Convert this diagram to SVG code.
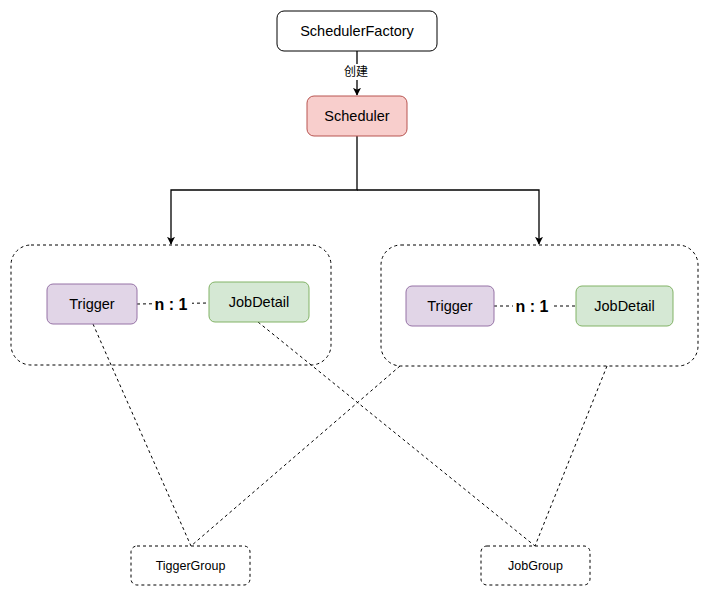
<svg xmlns="http://www.w3.org/2000/svg" width="708" height="596" viewBox="0 0 708 596">
<style>
text{font-family:"Liberation Sans",Arial,sans-serif;fill:#000;text-anchor:middle;dominant-baseline:central}
.lbl{font-size:14.5px}
.sm{font-size:12.5px}
.rel{font-size:16px;font-weight:bold}
.cjk{font-family:"Liberation Sans","Noto Sans CJK SC",sans-serif;font-size:12px}
.dash{fill:none;stroke:#000;stroke-width:1;stroke-dasharray:3 3}
.solid{fill:none;stroke:#000;stroke-width:1.3}
</style>
<defs>
<marker id="arr" viewBox="0 0 10 10" refX="9" refY="5" markerWidth="8" markerHeight="8" markerUnits="userSpaceOnUse" orient="auto">
<path d="M0,0 L10,5 L0,10 L2.5,5 Z" fill="#000"/>
</marker>
</defs>
<rect width="708" height="596" fill="#fff"/>
<g id="connectors">
<line class="solid" x1="357" y1="51" x2="357" y2="95" marker-end="url(#arr)"/>
<rect x="343" y="64" width="28" height="16" fill="#fff"/>
<text class="cjk" x="356" y="72">创建</text>
<path class="solid" d="M357,136 V190 H171 V244" marker-end="url(#arr)"/>
<path class="solid" d="M357,190 H539 V244" marker-end="url(#arr)"/>
<line class="dash" x1="137" y1="304" x2="209" y2="303"/>
<line class="dash" x1="494" y1="306" x2="576" y2="306"/>
<line class="dash" x1="93" y1="324" x2="191" y2="546"/>
<line class="dash" x1="258" y1="322" x2="535" y2="546"/>
<line class="dash" x1="400" y1="366" x2="191" y2="546"/>
<line class="dash" x1="607" y1="366" x2="535" y2="546"/>
</g>
<g id="schedulerfactory">
<rect x="277" y="11" width="160" height="40" rx="7" fill="#fff" stroke="#000"/>
<text class="lbl" x="357" y="31">SchedulerFactory</text>
</g>
<g id="scheduler">
<rect x="307" y="96" width="100" height="40" rx="7" fill="#f8cecc" stroke="#b85450"/>
<text class="lbl" x="357" y="116">Scheduler</text>
</g>
<g id="group-left">
<rect class="dash" x="11" y="245" width="320" height="120" rx="20"/>
</g>
<g id="trigger-left">
<rect x="47" y="284" width="90" height="40" rx="6" fill="#e1d5e7" stroke="#9673a6"/>
<text class="lbl" x="92" y="304">Trigger</text>
</g>
<g id="rel-left">
<rect x="152" y="294" width="40" height="20" fill="#fff"/>
<text class="rel" x="171" y="304">n : 1</text>
</g>
<g id="jobdetail-left">
<rect x="209" y="282" width="100" height="40" rx="6" fill="#d5e8d4" stroke="#82b366"/>
<text class="lbl" x="259" y="302">JobDetail</text>
</g>
<g id="group-right">
<rect class="dash" x="381" y="245" width="317" height="121" rx="20"/>
</g>
<g id="trigger-right">
<rect x="406" y="286" width="88" height="40" rx="6" fill="#e1d5e7" stroke="#9673a6"/>
<text class="lbl" x="450" y="306">Trigger</text>
</g>
<g id="rel-right">
<rect x="513" y="296" width="40" height="20" fill="#fff"/>
<text class="rel" x="532" y="306">n : 1</text>
</g>
<g id="jobdetail-right">
<rect x="576" y="286" width="97" height="40" rx="6" fill="#d5e8d4" stroke="#82b366"/>
<text class="lbl" x="624.5" y="306">JobDetail</text>
</g>
<g id="tiggergroup">
<rect class="dash" x="131" y="546" width="119" height="39" rx="6" fill="#fff"/>
<text class="sm" x="190.5" y="566">TiggerGroup</text>
</g>
<g id="jobgroup">
<rect class="dash" x="481" y="546" width="109" height="39" rx="6" fill="#fff"/>
<text class="sm" x="535.5" y="566">JobGroup</text>
</g>
</svg>
